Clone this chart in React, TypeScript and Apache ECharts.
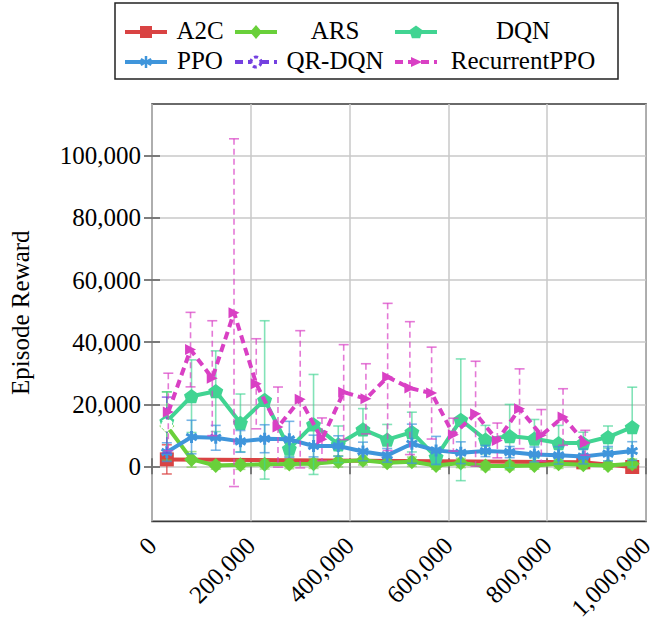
import React, { useEffect, useRef } from 'react';
import * as echarts from 'echarts';

// Evaluation timesteps
const steps = [30000, 80000, 129000, 179000, 228000, 278000, 327000, 377000, 427000, 476000, 526000, 575000, 625000, 675000, 724000, 774000, 823000, 873000, 923000, 972000];
const a2cSteps = [30000, 873000, 972000];
const qrdqnSteps = [30000];
const rppoSteps = [33000, 78000, 122000, 166000, 211000, 255000, 300000, 344000, 388000, 433000, 477000, 522000, 566000, 610000, 655000, 699000, 744000, 788000, 832000, 877000];

// Mean episode reward and standard deviation per algorithm
const a2cMean = [2250, 1300, -200];
const a2cStd = [4700, 1500, 1000];
const arsMean = [13000, 2250, 300, 550, 650, 750, 850, 1600, 1950, 1200, 1500, 300, 1100, 100, 100, 300, 850, 550, 300, 850];
const arsStd = [11000, 2500, 1200, 1500, 1500, 1500, 1500, 1800, 1500, 1500, 1500, 1200, 1500, 1200, 1200, 1200, 1500, 1200, 1200, 1500];
const dqnMean = [14500, 22600, 24200, 14000, 21400, 5700, 13500, 7100, 11900, 8600, 11050, 3000, 15000, 8600, 9750, 8900, 7500, 7500, 9450, 12650];
const dqnStd = [9500, 11700, 13000, 9300, 25500, 2500, 16100, 5900, 6700, 4900, 6400, 2500, 19600, 4600, 10200, 6200, 5700, 3500, 3550, 12850];
const ppoMean = [4600, 9450, 9200, 8050, 8900, 8700, 6550, 6550, 4800, 3550, 7300, 5150, 4400, 4950, 4600, 3850, 3550, 3200, 4100, 4950];
const ppoStd = [3000, 5400, 4000, 3500, 4500, 5800, 3500, 3300, 3000, 2200, 6300, 4500, 3500, 1800, 1800, 2400, 2800, 2400, 2300, 3000];
const qrdqnMean = [13300];
const qrdqnStd = [9000];
const rppoMean = [17500, 37600, 28400, 49500, 26600, 12650, 21600, 8700, 23900, 21750, 28800, 25200, 23600, 10200, 16950, 8350, 18550, 10000, 15900, 7600];
const rppoStd = [12500, 12000, 18500, 56000, 14500, 12900, 22100, 6900, 15300, 11300, 23700, 21400, 14800, 5300, 16900, 5600, 12850, 8300, 9100, 4000];

// Axis ticks
const yTicks = [0, 20000, 40000, 60000, 80000, 100000];

const FONT = '"Liberation Serif", "DejaVu Serif", serif';

const PENTAGON = 'path://M50,0 L97.6,34.5 L79.4,90.5 L20.6,90.5 L2.4,34.5 Z';
const ASTERISK = 'path://M5,0 L5,10 M0.67,2.5 L9.33,7.5 M0.67,7.5 L9.33,2.5';
const ARROW = 'path://M0,0 L10,5 L0,10 Z';

type Mark = 'square' | 'diamond' | 'pentagon' | 'asterisk' | 'ring' | 'arrow';

type SeriesDef = {
  name: string;
  color: string;
  bar: string;
  xs: number[];
  mean: number[];
  std: number[];
  mark: Mark;
  symbol: string;
  symbolSize: number;
  dashed: boolean;
};

const defs: SeriesDef[] = [
  { name: 'A2C', color: '#d94343', bar: 'rgba(217,67,67,0.75)', xs: a2cSteps, mean: a2cMean, std: a2cStd, mark: 'square', symbol: 'rect', symbolSize: 14, dashed: false },
  { name: 'ARS', color: '#69d03a', bar: 'rgba(105,208,58,0.6)', xs: steps, mean: arsMean, std: arsStd, mark: 'diamond', symbol: 'diamond', symbolSize: 15, dashed: false },
  { name: 'DQN', color: '#41d492', bar: 'rgba(65,212,146,0.65)', xs: steps, mean: dqnMean, std: dqnStd, mark: 'pentagon', symbol: PENTAGON, symbolSize: 15, dashed: false },
  { name: 'PPO', color: '#3f95db', bar: 'rgba(63,149,219,0.7)', xs: steps, mean: ppoMean, std: ppoStd, mark: 'asterisk', symbol: ASTERISK, symbolSize: 12, dashed: false },
  { name: 'QR-DQN', color: '#7440e0', bar: 'rgba(116,64,224,0.7)', xs: qrdqnSteps, mean: qrdqnMean, std: qrdqnStd, mark: 'ring', symbol: 'emptyCircle', symbolSize: 11, dashed: true },
  { name: 'RecurrentPPO', color: '#d940c4', bar: 'rgba(217,64,196,0.7)', xs: rppoSteps, mean: rppoMean, std: rppoStd, mark: 'arrow', symbol: ARROW, symbolSize: 11, dashed: true },
];

const fmt = (v: number) => Math.round(v).toLocaleString('en-US');

function errorSeries(d: SeriesDef, z: number) {
  return {
    type: 'custom',
    name: d.name + ' std',
    silent: true,
    z,
    xAxisIndex: 0,
    yAxisIndex: 0,
    data: d.xs.map((x, i) => [x, d.mean[i] - d.std[i], d.mean[i] + d.std[i]]),
    encode: { x: 0, y: [1, 2] },
    renderItem: (_params: any, api: any) => {
      const x = api.value(0);
      const top = api.coord([x, api.value(2)]);
      const bot = api.coord([x, api.value(1)]);
      const half = 5;
      const base = { stroke: d.bar, lineWidth: 1.6 };
      return {
        type: 'group',
        children: [
          { type: 'line', shape: { x1: top[0], y1: top[1], x2: bot[0], y2: bot[1] }, style: { ...base, lineDash: d.dashed ? [6, 4] : null } },
          { type: 'line', shape: { x1: top[0] - half, y1: top[1], x2: top[0] + half, y2: top[1] }, style: base },
          { type: 'line', shape: { x1: bot[0] - half, y1: bot[1], x2: bot[0] + half, y2: bot[1] }, style: base },
        ],
      };
    },
  };
}

function lineSeries(d: SeriesDef, z: number) {
  const itemStyle =
    d.mark === 'ring'
      ? { color: '#ffffff', borderColor: d.color, borderWidth: 3, borderType: [4, 3] }
      : d.mark === 'asterisk'
      ? { color: d.color, borderColor: d.color, borderWidth: 3 }
      : { color: d.color, borderColor: d.color, borderWidth: 0 };
  return {
    type: 'line',
    name: d.name,
    z,
    xAxisIndex: 0,
    yAxisIndex: 0,
    data: d.xs.map((x, i) => [x, d.mean[i]]),
    symbol: d.symbol,
    symbolSize: d.symbolSize,
    symbolKeepAspect: true,
    showAllSymbol: true,
    lineStyle: { color: d.color, width: 4, type: d.dashed ? [8, 5] : 'solid' },
    itemStyle,
    emphasis: { disabled: true },
  };
}

// Legend key: a short line with the series marker in the middle
function legendMark(d: SeriesDef, cx: number, cy: number): any[] {
  const fill = { fill: d.color, stroke: null };
  switch (d.mark) {
    case 'square':
      return [{ type: 'rect', shape: { x: cx - 6, y: cy - 6, width: 12, height: 12 }, style: fill }];
    case 'diamond':
      return [{ type: 'polygon', shape: { points: [[cx, cy - 7], [cx + 6, cy], [cx, cy + 7], [cx - 6, cy]] }, style: fill }];
    case 'pentagon': {
      const r = 7;
      const pts = [0, 1, 2, 3, 4].map((k) => {
        const a = -Math.PI / 2 + (k * 2 * Math.PI) / 5;
        return [cx + r * Math.cos(a), cy + 0.5 + r * Math.sin(a)];
      });
      return [{ type: 'polygon', shape: { points: pts }, style: fill }];
    }
    case 'asterisk': {
      const r = 6;
      return [0, 60, 120].map((deg) => {
        const a = (deg * Math.PI) / 180 + Math.PI / 2;
        return {
          type: 'line',
          shape: { x1: cx - r * Math.cos(a), y1: cy - r * Math.sin(a), x2: cx + r * Math.cos(a), y2: cy + r * Math.sin(a) },
          style: { stroke: d.color, lineWidth: 2.5 },
        };
      });
    }
    case 'ring':
      return [{ type: 'circle', shape: { cx, cy, r: 5 }, style: { fill: '#ffffff', stroke: d.color, lineWidth: 3, lineDash: [4, 3] } }];
    case 'arrow':
      return [{ type: 'polygon', shape: { points: [[cx - 5, cy - 5], [cx + 6, cy], [cx - 5, cy + 5]] }, style: fill }];
  }
  return [];
}

const legendIconX = [125, 235, 395];
const legendTextX = [200, 335, 523];
const legendRowY = [32, 62];

function legendGraphic(): any[] {
  const out: any[] = [
    { type: 'rect', shape: { x: 115, y: 3, width: 503, height: 76 }, style: { fill: '#ffffff', stroke: '#222222', lineWidth: 1.5 }, z: 50 },
  ];
  defs.forEach((d, i) => {
    const col = i % 3;
    const row = Math.floor(i / 3);
    const x0 = legendIconX[col];
    const y = legendRowY[row];
    out.push({
      type: 'line',
      shape: { x1: x0, y1: y, x2: x0 + 42, y2: y },
      style: { stroke: d.color, lineWidth: 4, lineDash: d.dashed ? [8, 5] : null },
      z: 51,
    });
    legendMark(d, x0 + 21, y).forEach((m) => out.push({ ...m, z: 52 }));
    out.push({
      type: 'text',
      x: legendTextX[col],
      y: y - 2,
      style: { text: d.name, fontFamily: FONT, fontSize: 25, fill: '#000', align: 'center', verticalAlign: 'middle' },
      z: 52,
    });
  });
  return out;
}

export default function App() {
  const ref = useRef<HTMLDivElement>(null);

  useEffect(() => {
    if (!ref.current) return;
    const chart = echarts.init(ref.current, null, { renderer: 'svg' });

    const series: any[] = [];
    defs.forEach((d, k) => {
      series.push(errorSeries(d, 2 + 2 * k));
      series.push(lineSeries(d, 3 + 2 * k));
    });

    const labelStyle = { fontFamily: FONT, fontSize: 25, color: '#000' };

    chart.setOption({
      animation: false,
      backgroundColor: '#ffffff',
      grid: {
        left: 148,
        right: 4,
        top: 104,
        bottom: 100,
        show: true,
        borderColor: '#3a3a3a',
        borderWidth: 1.6,
        backgroundColor: 'transparent',
      },
      graphic: legendGraphic(),
      xAxis: [
        {
          type: 'value',
          position: 'bottom',
          min: 0,
          max: 1000000,
          interval: 200000,
          axisLine: { show: false },
          axisTick: { show: true, inside: true, length: 8, lineStyle: { color: '#707070', width: 1.8 } },
          axisLabel: { ...labelStyle, rotate: 45, margin: 20, formatter: fmt, showMaxLabel: true, showMinLabel: true },
          splitLine: { show: true, lineStyle: { color: '#c8c8c8', width: 1.5 } },
        },
        {
          type: 'value',
          position: 'top',
          min: 0,
          max: 1000000,
          interval: 200000,
          axisLine: { show: false },
          axisTick: { show: true, inside: true, length: 8, lineStyle: { color: '#707070', width: 1.8 } },
          axisLabel: { show: false },
          splitLine: { show: false },
        },
      ],
      yAxis: [
        {
          type: 'value',
          position: 'left',
          min: -17700,
          max: 116700,
          name: 'Episode Reward',
          nameLocation: 'middle',
          nameRotate: 90,
          nameGap: 119,
          nameTextStyle: { ...labelStyle },
          axisLine: { show: false },
          axisTick: { show: true, inside: true, length: 8, customValues: yTicks, lineStyle: { color: '#707070', width: 1.8 } },
          axisLabel: { ...labelStyle, margin: 11, customValues: yTicks, formatter: fmt },
          splitLine: { show: true, lineStyle: { color: '#c8c8c8', width: 1.5 } },
        },
        {
          type: 'value',
          position: 'right',
          min: -17700,
          max: 116700,
          axisLine: { show: false },
          axisTick: { show: true, inside: true, length: 8, customValues: yTicks, lineStyle: { color: '#707070', width: 1.8 } },
          axisLabel: { show: false, customValues: yTicks },
          splitLine: { show: false },
        },
      ],
      series,
    });

    return () => chart.dispose();
  }, []);

  return <div ref={ref} style={{ position: 'fixed', left: 0, top: 0, width: 657, height: 623 }} />;
}
